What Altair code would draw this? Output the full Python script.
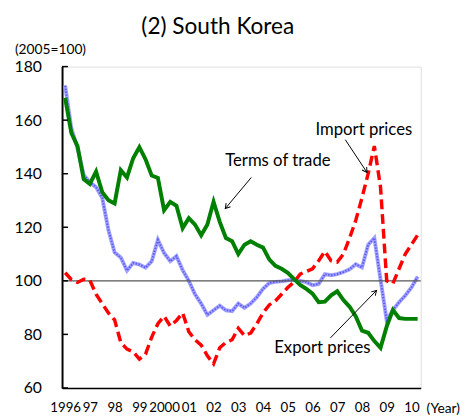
import altair as alt
import pandas as pd
import numpy as np

# Quarterly data, 1996Q1 .. 2010Q2 (index 0..57)
terms_of_trade = [168.3, 155.2, 150.3, 138.0, 136.2, 140.8, 133.1, 130.1, 128.9, 141.3,
                  138.6, 145.8, 149.9, 145.4, 139.3, 138.4, 126.4, 129.5, 128.0, 119.7,
                  123.4, 121.0, 117.0, 121.0, 129.5, 122.0, 116.0, 114.8, 110.0, 113.5,
                  114.8, 113.5, 112.4, 108.0, 105.6, 104.5, 103.0, 100.7, 98.5, 97.0,
                  95.2, 92.0, 92.2, 94.6, 96.1, 92.8, 90.3, 86.7, 81.4, 80.6,
                  77.5, 75.0, 83.0, 89.1, 86.1, 85.8, 85.8, 85.8]
export_prices = [172.9, 157.0, 149.5, 139.5, 136.8, 135.0, 131.0, 119.0, 110.6, 108.7,
                 103.8, 106.7, 106.1, 104.9, 107.3, 115.3, 110.4, 107.3, 109.2, 104.0,
                 100.0, 95.0, 91.5, 87.3, 89.0, 90.7, 89.0, 88.7, 91.5, 89.9,
                 91.5, 93.9, 97.0, 99.2, 99.6, 99.8, 100.2, 100.4, 100.0, 99.5,
                 98.4, 98.8, 102.5, 102.1, 102.5, 103.3, 104.3, 106.2, 105.0, 113.5,
                 116.0, 100.5, 85.2, 89.1, 92.0, 94.5, 97.5, 101.5]
import_prices = [103.0, 100.5, 99.4, 100.6, 100.2, 95.0, 91.5, 88.0, 85.4, 77.0,
                 74.5, 73.5, 70.8, 72.6, 79.0, 84.0, 86.8, 83.1, 85.2, 88.0,
                 81.0, 78.0, 76.0, 72.0, 69.0, 75.0, 77.0, 78.0, 82.3, 79.5,
                 80.5, 84.0, 88.0, 91.0, 92.5, 95.0, 97.5, 99.5, 102.5, 103.5,
                 104.5, 107.5, 111.0, 107.5, 107.0, 110.0, 116.0, 122.6, 131.0, 140.0,
                 150.3, 135.0, 100.0, 99.0, 104.5, 110.0, 113.5, 117.1]
year_labels = ["1996", "97", "98", "99", "2000", "01", "02", "03", "04", "05",
               "06", "07", "08", "09", "10"]
y_ticks = [60, 80, 100, 120, 140, 160, 180]

# annotations: label text, label position (index, value), arrow start/end
ann_text = ["Terms of trade", "Import prices", "Export prices"]
ann_x = [34.4, 48.3, 41.6]
ann_y = [144.8, 156.4, 74.8]
arr_x1 = [30.1, 45.3, 42.9]
arr_y1 = [138.6, 152.7, 78.7]
arr_x2 = [25.9, 48.8, 50.35]
arr_y2 = [127.0, 140.5, 96.4]

W, H = 365, 327
XDOM = [-0.5, 57.5]
YDOM = [60, 180]
FONT = "Lato"

n = len(terms_of_trade)
df = pd.DataFrame({
    "i": list(range(n)),
    "tot": terms_of_trade,
    "exp": export_prices,
    "imp": import_prices,
})

xs = alt.Scale(domain=XDOM, nice=False, zero=False)
ys = alt.Scale(domain=YDOM, nice=False, zero=False)

label_arr = "[" + ",".join("'%s'" % s for s in year_labels) + "]"
x_axis = alt.Axis(values=list(range(0, 57, 4)), labelExpr=label_arr + "[round(datum.value/4)]",
                  title=None, grid=False, ticks=False, domainColor="black", domainWidth=1.5,
                  labelFont=FONT, labelFontSize=13.5, labelPadding=13, labelColor="black",
                  labelFlush=False, labelOverlap=False, labelBound=False)
y_axis = alt.Axis(values=y_ticks, title=None, grid=False, ticks=False, domainColor="black",
                  domainWidth=2, labelFont=FONT, labelFontSize=16, labelPadding=21,
                  labelColor="black", labelOverlap=False)


def X(field):
    return alt.X(field, scale=xs, axis=x_axis)


def Y(field):
    return alt.Y(field, scale=ys, axis=y_axis)


base = alt.Chart(df)

blue_base = base.mark_line(color="#a3a3ff", strokeWidth=4).encode(x=X("i:Q"), y=Y("exp:Q"))
blue_tex = base.mark_line(color="#5c5cf5", strokeWidth=2, strokeDash=[1.5, 1.5]).encode(
    x=X("i:Q"), y=Y("exp:Q"))
green = base.mark_line(color="#008000", strokeWidth=4).encode(x=X("i:Q"), y=Y("tot:Q"))
red = base.mark_line(color="#ff0000", strokeWidth=3.5, strokeDash=[10, 5]).encode(
    x=X("i:Q"), y=Y("imp:Q"))

ref = alt.Chart(pd.DataFrame({"y": [100]})).mark_rule(color="#555555", strokeWidth=1.3).encode(
    y=Y("y:Q"), x=alt.value(0), x2=alt.value(W))

ytick = alt.Chart(pd.DataFrame({"y": y_ticks})).mark_rule(color="black", strokeWidth=1.5).encode(
    y=Y("y:Q"), x=alt.value(0), x2=alt.value(6))

# arrows
px_x = W / (XDOM[1] - XDOM[0])
px_y = H / (YDOM[1] - YDOM[0])
angles = [float((np.degrees(np.arctan2((x2 - x1) * px_x, (y2 - y1) * px_y))) % 360)
          for x1, y1, x2, y2 in zip(arr_x1, arr_y1, arr_x2, arr_y2)]
adf = pd.DataFrame({"x1": arr_x1, "y1": arr_y1, "x2": arr_x2, "y2": arr_y2, "ang": angles})

arrow_lines = alt.Chart(adf).mark_rule(color="black", strokeWidth=1).encode(
    x=X("x1:Q"), y=Y("y1:Q"), x2="x2:Q", y2="y2:Q")
arrow_heads = alt.Chart(adf).mark_point(
    shape="M-0.6,1L0,0L0.6,1", filled=False, stroke="black", strokeWidth=1, size=90, opacity=1
).encode(x=X("x2:Q"), y=Y("y2:Q"), angle=alt.Angle("ang:Q", scale=None))

tdf = pd.DataFrame({"t": ann_text, "x": ann_x, "y": ann_y})
ann = alt.Chart(tdf).mark_text(font=FONT, fontSize=17, color="black").encode(
    x=X("x:Q"), y=Y("y:Q"), text="t:N")

title = alt.Chart(pd.DataFrame({"t": ["(2) South Korea"]})).mark_text(
    font=FONT, fontSize=23, color="black", baseline="alphabetic", align="center"
).encode(x=alt.value(158.5), y=alt.value(-33), text="t:N")
unit = alt.Chart(pd.DataFrame({"t": ["(2005=100)"]})).mark_text(
    font=FONT, fontSize=14, color="black", baseline="alphabetic", align="left"
).encode(x=alt.value(-48), y=alt.value(-13), text="t:N")
year = alt.Chart(pd.DataFrame({"t": ["(Year)"]})).mark_text(
    font=FONT, fontSize=14, color="black", baseline="alphabetic", align="left"
).encode(x=alt.value(371), y=alt.value(352.5), text="t:N")

chart = alt.layer(
    blue_base, blue_tex, ref, red, green, ytick, arrow_lines, arrow_heads, ann, title, unit, year
).properties(
    width=W, height=H,
    autosize=alt.AutoSizeParams(type="none"),
    padding={"left": 55, "top": 56, "right": 42, "bottom": 29},
).configure_view(stroke=None).configure(background="white")

chart.save("out.html", embed_options={"renderer": "svg", "actions": False})
